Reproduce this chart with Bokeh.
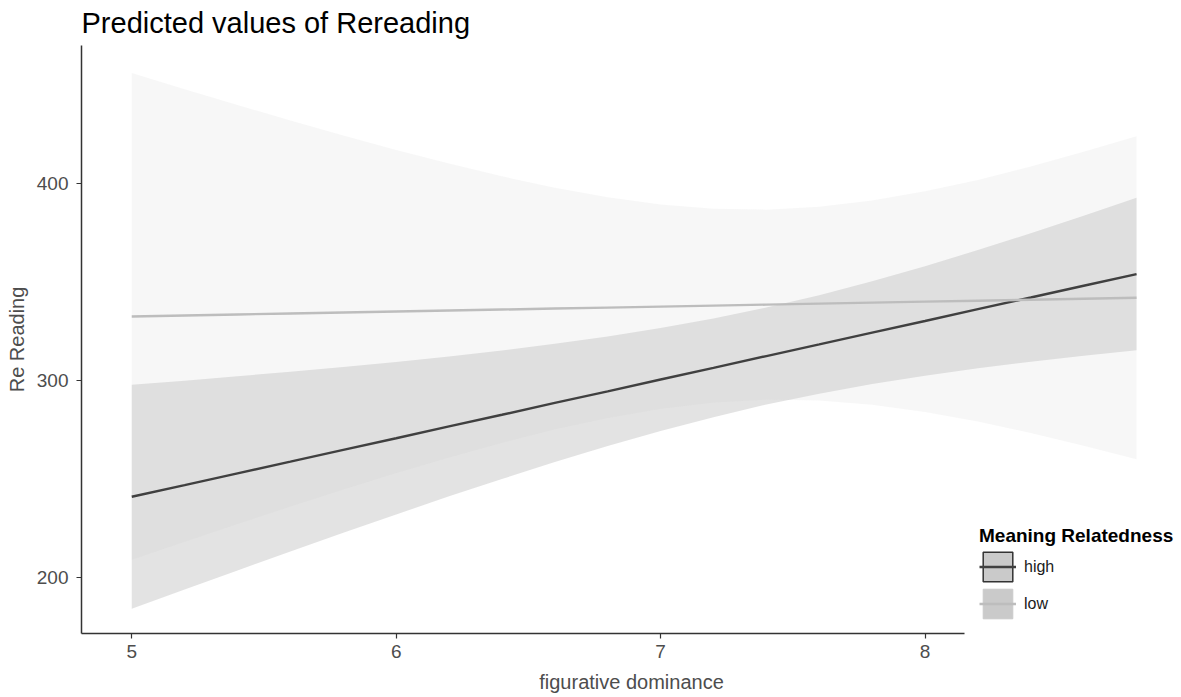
from bokeh.plotting import figure
from bokeh.models import Legend, LegendItem, FixedTicker, Range1d, ColumnDataSource
from bokeh.embed import file_html
from bokeh.resources import INLINE

# figurative dominance grid
fig_dominance = [5.0, 5.2, 5.4, 5.6, 5.8, 6.0, 6.2, 6.4, 6.6, 6.8,
                 7.0, 7.2, 7.4, 7.6, 7.8, 8.0, 8.2, 8.4, 8.6, 8.8]

# Meaning Relatedness = high
high_pred = [241.0, 246.9, 252.9, 258.8, 264.8, 270.7, 276.7, 282.6, 288.6, 294.5,
             300.5, 306.4, 312.4, 318.3, 324.3, 330.2, 336.2, 342.1, 348.1, 354.0]
high_lower = [184.2, 193.9, 203.6, 213.2, 222.7, 232.0, 241.2, 250.0, 258.6, 266.7,
              274.4, 281.4, 287.8, 293.3, 298.2, 302.4, 306.2, 309.5, 312.6, 315.3]
high_upper = [297.8, 299.9, 302.2, 304.4, 306.9, 309.4, 312.2, 315.2, 318.6, 322.3,
              326.6, 331.4, 337.0, 343.3, 350.4, 358.0, 366.2, 374.7, 383.6, 392.7]

# Meaning Relatedness = low
low_pred = [332.5, 333.0, 333.5, 334.0, 334.5, 335.0, 335.5, 336.0, 336.5, 337.0,
            337.5, 338.0, 338.5, 339.0, 339.5, 340.0, 340.5, 341.0, 341.5, 342.0]
low_lower = [209.0, 218.2, 227.2, 236.0, 244.7, 253.0, 260.9, 268.4, 275.2, 281.0,
             285.7, 288.8, 290.3, 289.8, 287.7, 284.0, 279.2, 273.4, 266.9, 260.0]
low_upper = [456.0, 447.8, 439.8, 432.0, 424.3, 417.0, 410.1, 403.6, 397.8, 393.0,
             389.3, 387.2, 386.7, 388.2, 391.3, 396.0, 401.8, 408.6, 416.1, 424.0]

groups = ["high", "low"]
x_ticks = [5, 6, 7, 8]
y_ticks = [200, 300, 400]

FONT = "Liberation Sans"
HIGH_COL = "#404040"
LOW_COL = "#BDBDBD"
NAN = float("nan")

p = figure(width=1181, height=697, output_backend="svg", toolbar_location=None,
           x_range=Range1d(4.81, 8.97), y_range=Range1d(171.6, 470.0),
           min_border_left=81, min_border_right=0, min_border_top=45, min_border_bottom=64,
           title="Predicted values of Rereading")

p.background_fill_color = "white"
p.border_fill_color = "white"
p.outline_line_color = None
p.xgrid.visible = False
p.ygrid.visible = False

p.title.text_font = FONT
p.title.text_font_size = "29px"
p.title.text_font_style = "normal"
p.title.text_color = "#000000"
p.title.align = "left"
p.title.vertical_align = "top"
p.title.standoff = 10

src_high = ColumnDataSource(dict(x=fig_dominance, y=high_pred, lo=high_lower, hi=high_upper))
src_low = ColumnDataSource(dict(x=fig_dominance, y=low_pred, lo=low_lower, hi=low_upper))

p.varea(x="x", y1="lo", y2="hi", source=src_high, fill_color=HIGH_COL, fill_alpha=0.15)
p.varea(x="x", y1="lo", y2="hi", source=src_low, fill_color="#C6C6C6", fill_alpha=0.15)
line_high = p.line(x="x", y="y", source=src_high, line_color=HIGH_COL, line_width=2.4)
line_low = p.line(x="x", y="y", source=src_low, line_color=LOW_COL, line_width=2.4)

# legend key boxes (renderers that draw nothing on the plot, legend only)
box_high = p.quad(left=[NAN], right=[NAN], top=[NAN], bottom=[NAN], fill_color="#CACACA",
                  line_color="#333333", line_width=1.5)
box_low = p.quad(left=[NAN], right=[NAN], top=[NAN], bottom=[NAN], fill_color="#CACACA",
                 line_color="#CACACA", line_width=1.0)

for ax in (p.xaxis[0], p.yaxis[0]):
    ax.axis_line_color = "#333333"
    ax.axis_line_width = 1.5
    ax.major_tick_line_color = "#333333"
    ax.major_tick_line_width = 1.2
    ax.major_tick_out = 5
    ax.major_tick_in = 0
    ax.minor_tick_line_color = None
    ax.major_label_text_font = FONT
    ax.major_label_text_font_size = "19px"
    ax.major_label_text_color = "#4D4D4D"
    ax.axis_label_text_font = FONT
    ax.axis_label_text_font_size = "20px"
    ax.axis_label_text_font_style = "normal"
    ax.axis_label_text_color = "#4D4D4D"

p.xaxis[0].ticker = FixedTicker(ticks=x_ticks)
p.yaxis[0].ticker = FixedTicker(ticks=y_ticks)
p.xaxis[0].bounds = (4.81, 8.15)
p.xaxis[0].axis_label = "figurative dominance"
p.yaxis[0].axis_label = "Re Reading"
p.xaxis[0].major_label_standoff = 6
p.xaxis[0].axis_label_standoff = 10
p.yaxis[0].major_label_standoff = 8
p.yaxis[0].axis_label_standoff = 6

legend = Legend(items=[LegendItem(label=groups[0], renderers=[box_high, line_high]),
                       LegendItem(label=groups[1], renderers=[box_low, line_low])],
                title="Meaning Relatedness",
                location=(898, 11))
legend.title_text_font = FONT
legend.title_text_font_size = "19px"
legend.title_text_font_style = "bold"
legend.title_text_color = "#000000"
legend.title_standoff = 1
legend.label_text_font = FONT
legend.label_text_font_size = "16px"
legend.label_text_color = "#1A1A1A"
legend.glyph_width = 37
legend.glyph_height = 37
legend.label_standoff = 8
legend.spacing = 0
legend.padding = 10
legend.margin = 0
legend.background_fill_color = "white"
legend.background_fill_alpha = 1.0
legend.border_line_color = None
p.add_layout(legend, "center")

open("out.html", "w").write(file_html(p, INLINE))
